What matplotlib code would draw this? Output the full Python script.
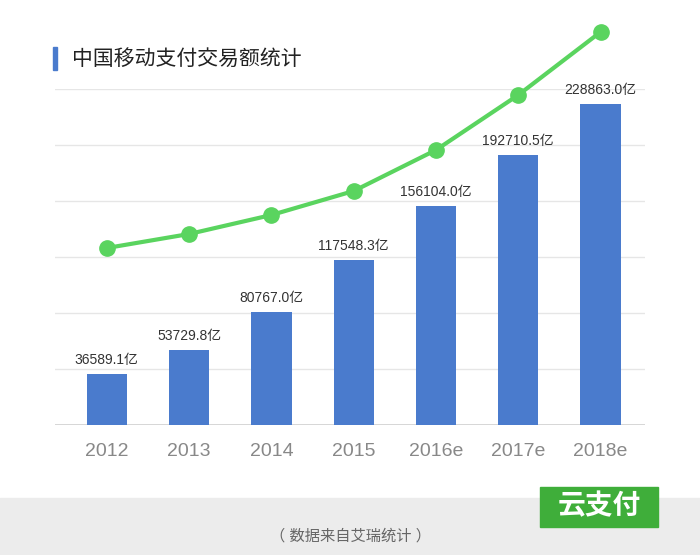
import matplotlib
matplotlib.use("Agg")
import matplotlib.pyplot as plt
from matplotlib.patches import Rectangle

plt.rcParams["font.family"] = ["Liberation Sans", "Noto Sans CJK JP"]

years = ["2012", "2013", "2014", "2015", "2016e", "2017e", "2018e"]
amounts = [36589.1, 53729.8, 80767.0, 117548.3, 156104.0, 192710.5, 228863.0]
trend = [177, 191, 210, 234, 275, 330, 393]  # trend line (relative units)

fig = plt.figure(figsize=(7, 5.55), dpi=100)
ax = fig.add_axes([55/700, (555-425)/555, 590/700, 336/555])
x = list(range(len(years)))
ymax = 228863 * 336 / 321
ax.set_xlim(-0.63, 6.54)
ax.set_ylim(0, ymax)
for i in range(1, 7):
    ax.axhline(ymax * i / 6, color="#e6e6e6", lw=1, zorder=0)
ax.axhline(0, color="#d0d0d0", lw=1.2, zorder=0)
ax.bar(x, amounts, width=0.49, color="#4a7bcd", zorder=2)
for xi, v in zip(x, amounts):
    ax.text(xi, v + ymax*0.02, f"{v:.1f}亿", ha="center", va="bottom", fontsize=10, color="#333333")
ax.set_xticks(x)
ax.set_xticklabels(years, fontsize=14, color="#888888")
ax.tick_params(length=0, pad=13)
ax.set_yticks([])
for s in ax.spines.values():
    s.set_visible(False)

ax2 = ax.twinx()
ax2.set_ylim(0, 336)
ax2.plot(x, trend, color="#5ad45f", lw=3, marker="o", ms=11, clip_on=False, zorder=3)
ax2.set_yticks([])
for s in ax2.spines.values():
    s.set_visible(False)

# title
fig.patches.append(Rectangle((53/700, 1-70/555), 4/700, 23/555, transform=fig.transFigure, color="#4a7bcd"))
fig.text(72/700, 1-59/555, "中国移动支付交易额统计", fontsize=15, color="#222222", va="center")

# footer band
fig.patches.append(Rectangle((0, 0), 1, 57/555, transform=fig.transFigure, color="#ececec", zorder=0))
fig.text(0.5, 1-536/555, "（ 数据来自艾瑞统计 ）", fontsize=11, color="#666666", ha="center", va="center")
fig.patches.append(Rectangle((540/700, 1-527/555), 118/700, 40/555, transform=fig.transFigure, color="#3fae3a", zorder=1))
fig.text(599/700, 1-507/555, "云支付", fontsize=20, color="#ffffff", ha="center", va="center", weight="bold", zorder=2)

fig.savefig("out.png", dpi=100)
